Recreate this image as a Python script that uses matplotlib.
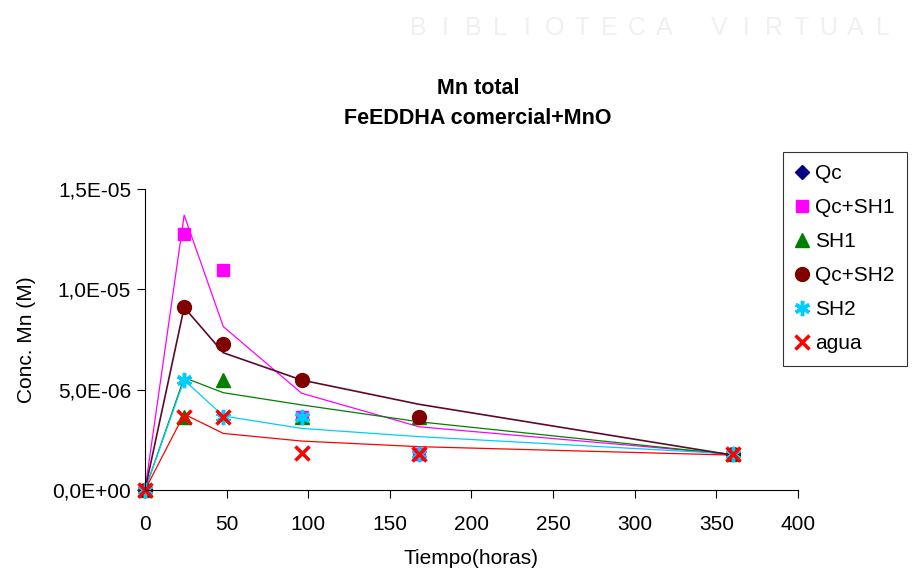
import matplotlib.pyplot as plt
import numpy as np
from matplotlib.ticker import FuncFormatter

plt.rcParams['font.family'] = ['Liberation Sans', 'DejaVu Sans']

# Tiempo (horas)
tiempo = [0, 24, 48, 96, 168, 360]

# measured points (Conc. Mn, M)
qc = [0, np.nan, np.nan, np.nan, np.nan, 1.8e-6]
qc_sh1 = [0, 1.275e-5, 1.095e-5, 3.64e-6, 1.82e-6, 1.82e-6]
sh1 = [0, 3.64e-6, 5.5e-6, 3.64e-6, 3.64e-6, 1.82e-6]
qc_sh2 = [0, 9.1e-6, 7.27e-6, 5.48e-6, 3.64e-6, 1.82e-6]
sh2 = [0, 5.48e-6, 3.64e-6, 3.64e-6, 1.82e-6, 1.82e-6]
agua = [0, 3.64e-6, 3.64e-6, 1.84e-6, 1.82e-6, 1.82e-6]

# model curves (lines)
fit_qc_sh1 = [0, 1.37e-5, 8.14e-6, 4.82e-6, 3.15e-6, 1.78e-6]
fit_sh1 = [0, 5.6e-6, 4.85e-6, 4.24e-6, 3.4e-6, 1.76e-6]
fit_qc_sh2 = [0, 9.1e-6, 6.84e-6, 5.48e-6, 4.27e-6, 1.74e-6]
fit_sh2 = [0, 5.48e-6, 3.69e-6, 3.07e-6, 2.66e-6, 1.8e-6]
fit_agua = [0, 3.78e-6, 2.82e-6, 2.44e-6, 2.16e-6, 1.74e-6]

fs = 15

fig = plt.figure(figsize=(9.17, 5.69), dpi=100)
ax = fig.add_axes([0.1581, 0.1388, 0.7121, 0.529])

# lines first
ax.plot(tiempo, fit_qc_sh1, color='#ff00ff', lw=0.9)
ax.plot(tiempo, fit_sh1, color='#008000', lw=0.9)
ax.plot(tiempo, fit_sh2, color='#00ccff', lw=0.9)
ax.plot(tiempo, fit_agua, color='#ff0000', lw=0.9)
ax.plot(tiempo, fit_qc_sh2, color='#5c0a2a', lw=1.2)

# markers
kw = dict(ls='none', clip_on=False)
ax.plot(tiempo, qc, 'D', color='#000080', ms=7, label='Qc', **kw)
ax.plot(tiempo, qc_sh1, 's', color='#ff00ff', ms=9, label='Qc+SH1', **kw)
ax.plot(tiempo, sh1, '^', color='#008000', ms=10, label='SH1', **kw)
ax.plot(tiempo, qc_sh2, 'o', color='#800000', ms=10, label='Qc+SH2', **kw)
ax.plot(tiempo, sh2, marker=(6, 2, 0), color='#00ccff', ms=11, mew=2.5, label='SH2', **kw)
ax.plot(tiempo, agua, 'x', color='#ff0000', ms=10, mew=2.5, label='agua', **kw)

ax.set_xlim(0, 400)
ax.set_ylim(0, 1.5e-5)
ax.set_xticks(range(0, 401, 50))
ax.set_yticks([0, 5e-6, 1e-5, 1.5e-5])
ax.yaxis.set_major_formatter(FuncFormatter(lambda v, p: ('%.1E' % v).replace('.', ',')))
ax.spines['top'].set_visible(False)
ax.spines['right'].set_visible(False)
ax.tick_params(direction='out', length=6, labelsize=fs)
ax.tick_params(axis='x', pad=12)
ax.tick_params(axis='y', pad=4)
ax.set_xlabel('Tiempo(horas)', fontsize=fs, labelpad=11)
ax.set_ylabel('Conc. Mn (M)', fontsize=fs, labelpad=12)

fig.text(0.521, 0.818, 'Mn total\nFeEDDHA comercial+MnO', ha='center', va='center',
         fontsize=15.5, fontweight='bold', linespacing=1.6)

leg = fig.legend(loc='upper left', bbox_to_anchor=(0.854, 0.733), frameon=True,
                 fontsize=fs, handlelength=0.6, handletextpad=0.35, labelspacing=0.72,
                 borderpad=0.6, borderaxespad=0, fancybox=False, edgecolor='black')
leg.get_frame().set_linewidth(0.8)

# watermark
wm = 'BIBLIOTECA VIRTUAL'
xs = np.linspace(0.456, 0.963, len(wm))
for ch, xx in zip(wm, xs):
    fig.text(xx, 0.95, ch, color='#f0f0f0', fontsize=18, ha='center', va='center')

fig.savefig('out.png', dpi=100)
